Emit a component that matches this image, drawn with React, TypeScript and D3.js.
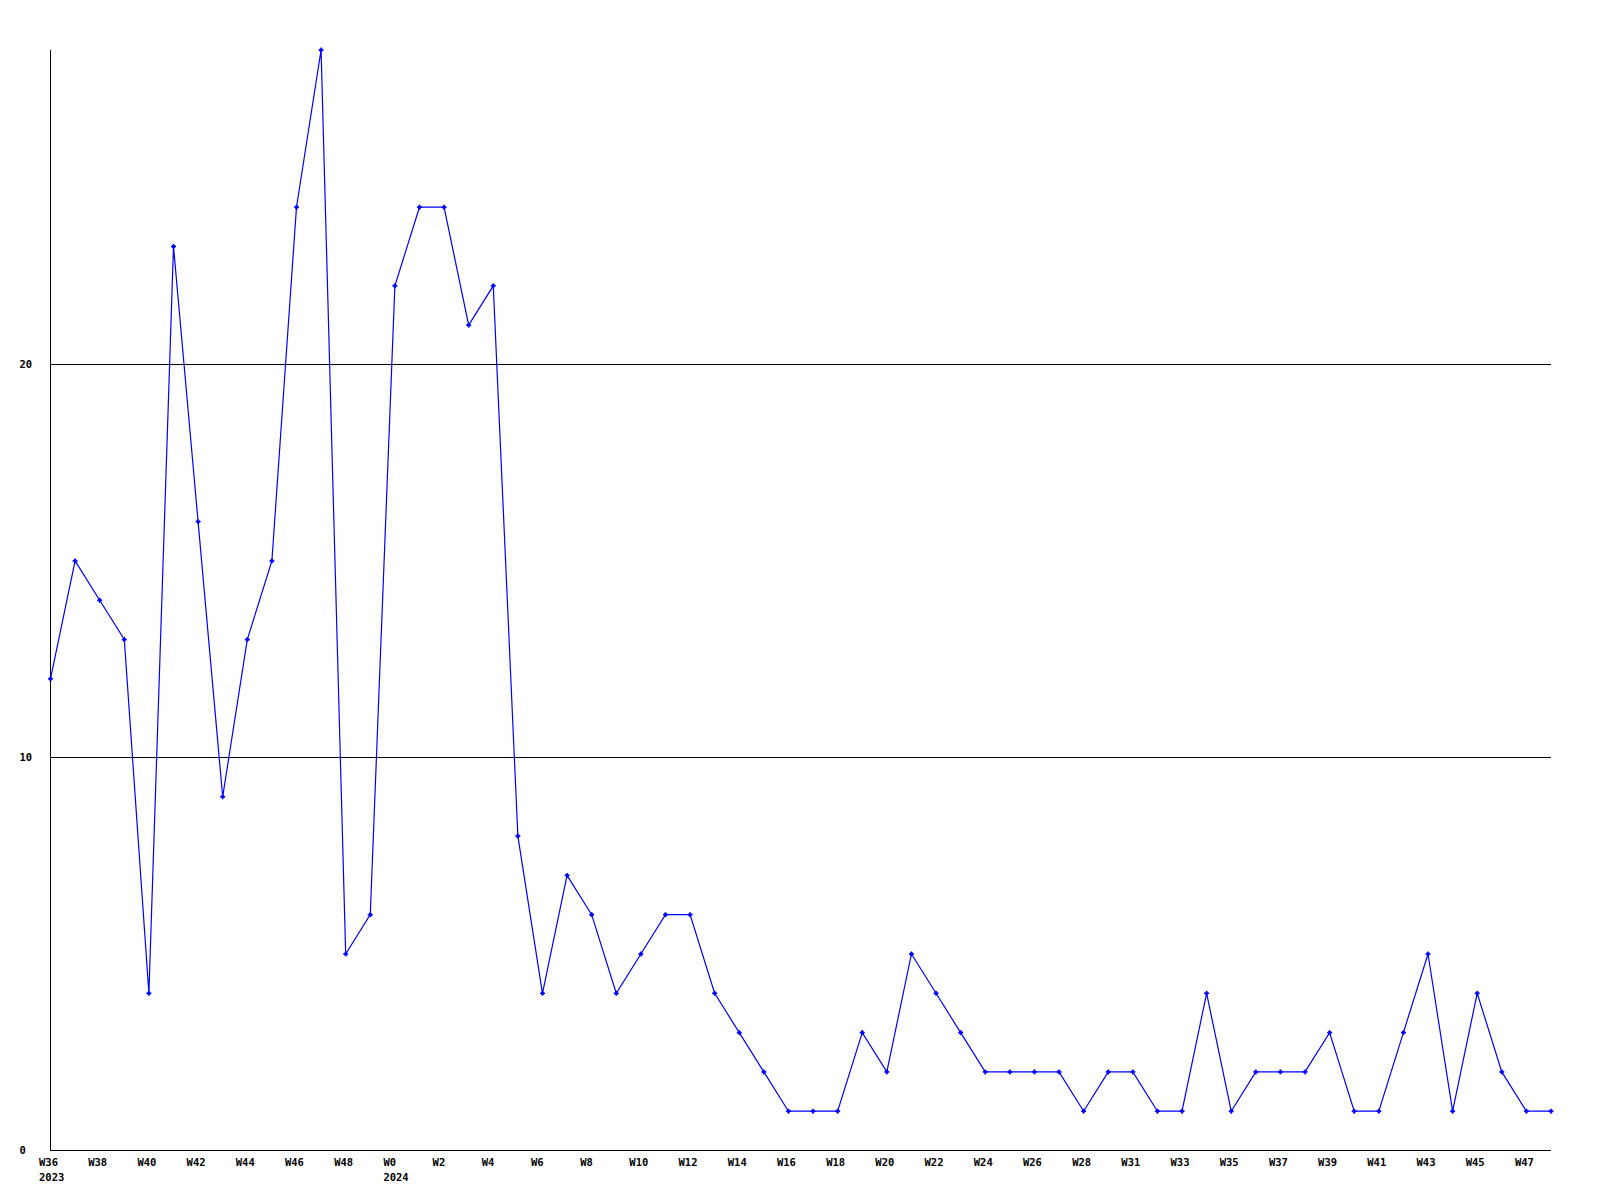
import React from "react";
import * as d3 from "d3";

const weeks: string[] = [
  "W36", "W37", "W38", "W39", "W40", "W41", "W42", "W43", "W44", "W45", "W46", "W47", "W48", "W49",
  "W0", "W1", "W2", "W3", "W4", "W5", "W6", "W7", "W8", "W9", "W10", "W11", "W12", "W13", "W14",
  "W15", "W16", "W17", "W18", "W19", "W20", "W21", "W22", "W23", "W24", "W25", "W26", "W27", "W28",
  "W29", "W31", "W32", "W33", "W34", "W35", "W36", "W37", "W38", "W39", "W40", "W41", "W42", "W43",
  "W44", "W45", "W46", "W47", "W48",
];

const years: { index: number; label: string }[] = [
  { index: 0, label: "2023" },
  { index: 14, label: "2024" },
];

const values: number[] = [
  12, 15, 14, 13, 4, 23, 16, 9, 13, 15, 24, 28, 5, 6,
  22, 24, 24, 21, 22, 8, 4, 7, 6, 4, 5, 6, 6, 4, 3,
  2, 1, 1, 1, 3, 2, 5, 4, 3, 2, 2, 2, 2, 1,
  2, 2, 1, 1, 4, 1, 2, 2, 2, 3, 1, 1, 3, 5,
  1, 4, 2, 1, 1,
];

const yTicks: number[] = [0, 10, 20];
const yMax = 28;

export default function App() {
  const W = 1600;
  const H = 1200;
  const x0 = 50.5;
  const x1 = 1551;
  const y0 = 1150.5;
  const yTop = 50;

  const x = d3.scaleLinear().domain([0, values.length - 1]).range([x0, x1]);
  const y = d3.scaleLinear().domain([0, yMax]).range([y0, yTop]);

  const line = d3
    .line<number>()
    .x((_, i) => x(i))
    .y((d) => y(d));

  const font = "'DejaVu Sans Mono', monospace";
  const fs = 10.5;

  return (
    <svg
      width={W}
      height={H}
      style={{ position: "absolute", left: 0, top: 0, background: "#fff" }}
    >
      <rect x={0} y={0} width={W} height={H} fill="#fff" />
      {/* gridlines */}
      {yTicks
        .filter((t) => t !== 0)
        .map((t) => (
          <line
            key={"g" + t}
            x1={x0}
            x2={x1}
            y1={Math.round(y(t)) + 0.5}
            y2={Math.round(y(t)) + 0.5}
            stroke="#000"
            strokeWidth={1}
            shapeRendering="crispEdges"
          />
        ))}
      {/* axes */}
      <line x1={x0} x2={x0} y1={yTop} y2={y0} stroke="#000" strokeWidth={1} shapeRendering="crispEdges" />
      <line x1={x0} x2={x1} y1={y0} y2={y0} stroke="#000" strokeWidth={1} shapeRendering="crispEdges" />
      {/* y labels */}
      {yTicks.map((t) => (
        <text
          key={"yl" + t}
          x={19.5}
          y={y(t)}
          dy="0.35em"
          fontFamily={font}
          fontWeight="bold"
          fontSize={fs}
          fill="#000"
        >
          {t}
        </text>
      ))}
      {/* x labels */}
      {weeks.map((w, i) =>
        i % 2 === 0 ? (
          <text
            key={"xl" + i}
            x={x(i) - 11.5}
            y={1162}
            dy="0.35em"
            fontFamily={font}
            fontWeight="bold"
            fontSize={fs}
            fill="#000"
          >
            {w}
          </text>
        ) : null
      )}
      {years.map((yr) => (
        <text
          key={"yr" + yr.index}
          x={x(yr.index) - 11.5}
          y={1177}
          dy="0.35em"
          fontFamily={font}
          fontWeight="bold"
          fontSize={fs}
          fill="#000"
        >
          {yr.label}
        </text>
      ))}
      {/* data line */}
      <path d={line(values) || ""} fill="none" stroke="#0000ff" strokeWidth={1.2} />
      {values.map((v, i) => {
        const cx = x(i);
        const cy = y(v);
        return (
          <g key={"m" + i}>
            <line x1={cx - 2.5} x2={cx + 2.5} y1={cy} y2={cy} stroke="#0000ff" strokeWidth={1.5} />
            <line x1={cx} x2={cx} y1={cy - 2.5} y2={cy + 2.5} stroke="#0000ff" strokeWidth={1.5} />
            <rect x={cx - 1.5} y={cy - 1.5} width={3} height={3} fill="#0000ff" />
          </g>
        );
      })}
    </svg>
  );
}
